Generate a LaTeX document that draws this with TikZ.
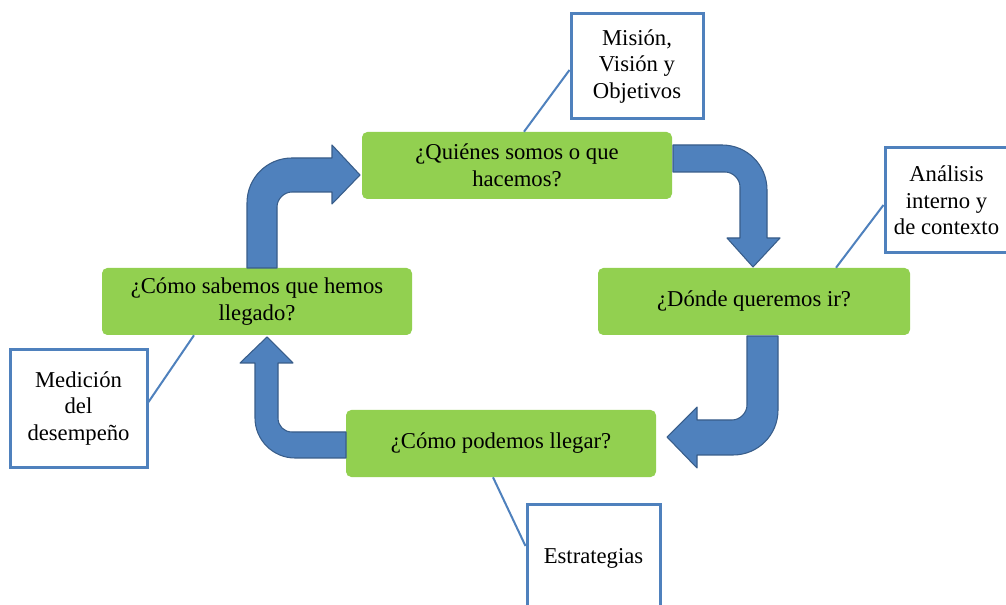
\documentclass[tikz,border=0pt]{standalone}
\usepackage{fontspec}
\setmainfont{Liberation Serif}
\definecolor{boxgreen}{HTML}{92D050}
\definecolor{arrowblue}{HTML}{4F81BD}
\definecolor{arrowedge}{HTML}{385D8A}
\begin{document}
\begin{tikzpicture}[x=0.75pt,y=-0.75pt,
  greenbox/.style={rectangle, rounded corners=4pt, fill=boxgreen, draw=none,
    minimum width=232.5pt, minimum height=50.25pt, align=center, inner sep=2pt,
    font=\fontsize{17}{20}\selectfont},
  callout/.style={rectangle, draw=arrowblue, line width=2.25pt, fill=white,
    align=center, inner sep=2pt, font=\fontsize{17}{20}\selectfont},
  blockarrow/.style={fill=arrowblue, draw=arrowedge, line width=0.8pt, line join=round},
  calline/.style={draw=arrowblue, line width=1.5pt}]
\clip (0,0) rectangle (1006,605);
\fill[white] (0,0) rectangle (1006,605);

% green boxes
\node[greenbox] (q) at (517,165.5) {¿Quiénes somos o que\\hacemos?};
\node[greenbox, minimum width=234pt] (d) at (754,301.5) {¿Dónde queremos ir?};
\node[greenbox] (c) at (501,443.5) {¿Cómo podemos llegar?};
\node[greenbox] (s) at (257,301.5) {¿Cómo sabemos que hemos\\llegado?};

% callout boxes
\node[callout, minimum width=99pt, minimum height=78.75pt] (mvo) at (637,66.5) {Misión,\\Visión y\\Objetivos};
\node[callout, minimum width=92.25pt, minimum height=78.75pt] (ana) at (946.5,200.5) {Análisis\\interno y\\de contexto};
\node[callout, minimum width=102.75pt, minimum height=87.75pt] (med) at (78.5,408.5) {Medición\\del\\desempeño};
\node[callout, minimum width=99.75pt, minimum height=81pt] (est) at (593.5,558) {Estrategias};

% callout connectors
\coordinate (q1) at (q.north west -| 524,0);
\coordinate (d1) at (d.north west -| 836,0);
\coordinate (s1) at (s.south west -| 194,0);
\coordinate (c1) at (c.south west -| 493,0);
\coordinate (mvo1) at (mvo.west |- 0,70);
\coordinate (ana1) at (ana.west |- 0,205);
\coordinate (med1) at (med.east |- 0,402);
\coordinate (est1) at (est.west |- 0,546);
\draw[calline] (q1) -- (mvo1);
\draw[calline] (d1) -- (ana1);
\draw[calline] (s1) -- (med1);
\draw[calline] (c1) -- (est1);

% block arrows
% left -> top
\draw[blockarrow] (247,268) -- (247,203) .. controls (247,178) and (267,158) .. (292,158)
  -- (332,158) -- (332,145) -- (360,175) -- (332,204) -- (332,192) -- (292,192)
  .. controls (284,192) and (277,199) .. (277,207) -- (277,268) -- cycle;
% top -> right
\draw[blockarrow] (673,145) -- (722,145) .. controls (747,145) and (767,165) .. (767,190)
  -- (767,238) -- (780,238) -- (753,267) -- (727,238) -- (740,238) -- (740,187)
  .. controls (740,179) and (733,172) .. (725,172) -- (673,172) -- cycle;
% right -> bottom
\draw[blockarrow] (778,336) -- (778,410) .. controls (778,435) and (758,455) .. (733,455)
  -- (697,455) -- (697,468) -- (667,437) -- (697,407) -- (697,420) -- (732,420)
  .. controls (740,420) and (747,413) .. (747,405) -- (747,336) -- cycle;
% bottom -> left
\draw[blockarrow] (346,458) -- (295,458) .. controls (273,458) and (255,440) .. (255,418)
  -- (255,363) -- (240,363) -- (267,337) -- (293,363) -- (278,363) -- (278,418)
  .. controls (278,426) and (284,432) .. (292,432) -- (346,432) -- cycle;
\end{tikzpicture}
\end{document}
